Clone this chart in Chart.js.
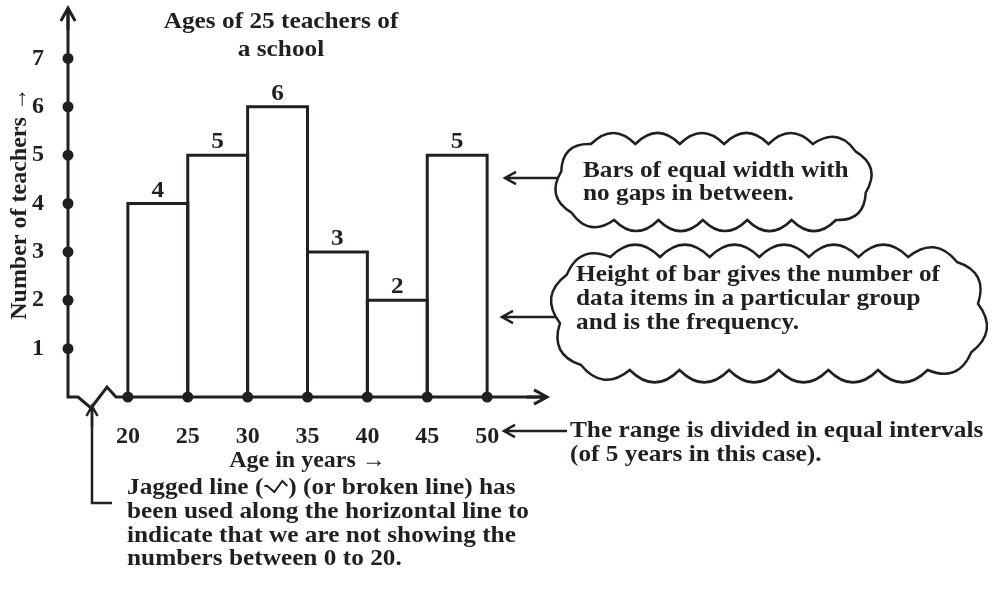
<!DOCTYPE html>
<html>
<head>
<meta charset="utf-8">
<script src="https://cdn.jsdelivr.net/npm/chart.js@4.4.1/dist/chart.umd.min.js"></script>
<style>
  html, body { margin: 0; padding: 0; background: #fff; }
  #wrap { width: 996px; height: 593px; }
</style>
</head>
<body>
<div id="wrap"><canvas id="histo" width="996" height="593"></canvas></div>
<script>
// datos del histograma
const ageEdges = [20, 25, 30, 35, 40, 45, 50];
const binMids = [22.5, 27.5, 32.5, 37.5, 42.5, 47.5];
const teachers = [4, 5, 6, 3, 2, 5];
const yTicks = [1, 2, 3, 4, 5, 6, 7];

const titleLines = ['Ages of 25 teachers of', 'a school'];
const cloudOneLines = ['Bars of equal width with', 'no gaps in between.'];
const cloudTwoLines = ['Height of bar gives the number of', 'data items in a particular group', 'and is the frequency.'];
const rangeLines = ['The range is divided in equal intervals', '(of 5 years in this case).'];
const jagLines = ['been used along the horizontal line to', 'indicate that we are not showing the', 'numbers between 0 to 20.'];

const INK = '#231f20';
const FAMILY = '"Liberation Serif", "Times New Roman", serif';
const SX = 1.1; // el texto del original esta un poco ensanchado

function say(ctx, s, x, y, align) {
    ctx.save();
    ctx.translate(x, y);
    ctx.scale(SX, 1);
    ctx.textAlign = align || 'left';
    ctx.textBaseline = 'alphabetic';
    ctx.fillText(s, 0, 0);
    ctx.restore();
}

function arrow(ctx, x0, y0, x1, y1, head) {
    const dx = x1 - x0, dy = y1 - y0;
    const len = Math.hypot(dx, dy);
    const ux = dx / len, uy = dy / len;
    ctx.beginPath();
    ctx.moveTo(x0, y0);
    ctx.lineTo(x1, y1);
    ctx.moveTo(x1 - ux * head - uy * head * 0.55, y1 - uy * head + ux * head * 0.55);
    ctx.lineTo(x1, y1);
    ctx.lineTo(x1 - ux * head + uy * head * 0.55, y1 - uy * head - ux * head * 0.55);
    ctx.stroke();
}

// puntos repartidos sobre un rectangulo redondeado
function rrPoints(x0, y0, x1, y1, r, n, phase) {
    const dense = [];
    const corners = [[x1 - r, y0 + r, -Math.PI / 2], [x1 - r, y1 - r, 0], [x0 + r, y1 - r, Math.PI / 2], [x0 + r, y0 + r, Math.PI]];
    corners.forEach(([cx, cy, a0]) => {
        for (let k = 0; k <= 8; k++) {
            const a = a0 + k / 8 * Math.PI / 2;
            dense.push([cx + r * Math.cos(a), cy + r * Math.sin(a)]);
        }
    });
    dense.push(dense[0]);
    const cum = [0];
    for (let i = 1; i < dense.length; i++) {
        cum.push(cum[i - 1] + Math.hypot(dense[i][0] - dense[i - 1][0], dense[i][1] - dense[i - 1][1]));
    }
    const total = cum[cum.length - 1];
    const pts = [];
    for (let i = 0; i < n; i++) {
        const s = ((phase + i / n) % 1) * total;
        let j = 1;
        while (cum[j] < s) j++;
        const t = (s - cum[j - 1]) / (cum[j] - cum[j - 1] || 1);
        pts.push([dense[j - 1][0] + t * (dense[j][0] - dense[j - 1][0]), dense[j - 1][1] + t * (dense[j][1] - dense[j - 1][1])]);
    }
    return pts;
}

function cloud(ctx, x0, y0, x1, y1, r, n, phase) {
    const pts = rrPoints(x0, y0, x1, y1, r, n, phase);
    ctx.beginPath();
    ctx.moveTo(pts[0][0], pts[0][1]);
    for (let i = 0; i < n; i++) {
        const a = pts[i], b = pts[(i + 1) % n];
        const dx = b[0] - a[0], dy = b[1] - a[1];
        const cx = (a[0] + b[0]) / 2 + dy * 0.5;
        const cy = (a[1] + b[1]) / 2 - dx * 0.5;
        ctx.quadraticCurveTo(cx, cy, b[0], b[1]);
    }
    ctx.closePath();
    ctx.fillStyle = '#fff';
    ctx.fill();
    ctx.stroke();
}

const decor = {
    id: 'decor',
    afterDatasetsDraw(chart) {
        const ctx = chart.ctx;
        const xs = chart.scales.x, ys = chart.scales.y;
        const x0 = xs.getPixelForValue(15), yb = ys.getPixelForValue(0);
        ctx.save();
        ctx.strokeStyle = INK;
        ctx.fillStyle = INK;
        ctx.lineJoin = 'miter';
        ctx.lineCap = 'butt';

        // contorno de las barras
        ctx.lineWidth = 3;
        const meta = chart.getDatasetMeta(2);
        ctx.font = 'bold 23px ' + FAMILY;
        meta.data.forEach((bar, i) => {
            const p = bar.getProps(['x', 'y', 'base', 'width'], true);
            const l = p.x - p.width / 2, r = p.x + p.width / 2;
            ctx.beginPath();
            ctx.moveTo(l, p.base);
            ctx.lineTo(l, p.y);
            ctx.lineTo(r, p.y);
            ctx.lineTo(r, p.base);
            ctx.stroke();
            say(ctx, String(teachers[i]), p.x, p.y - 7, 'center');
        });

        // ejes con linea quebrada
        ctx.beginPath();
        ctx.moveTo(x0, 8);
        ctx.lineTo(x0, yb);
        ctx.lineTo(x0 + 10, yb);
        ctx.lineTo(x0 + 23, yb + 11);
        ctx.lineTo(x0 + 39, yb - 10);
        ctx.lineTo(x0 + 48, yb);
        ctx.lineTo(chart.chartArea.right, yb);
        ctx.stroke();
        arrow(ctx, x0, 30, x0, 8, 13);
        arrow(ctx, chart.chartArea.right - 20, yb, chart.chartArea.right, yb, 13);

        // titulo
        titleLines.forEach((s, i) => say(ctx, s, 281, 28 + i * 28, 'center'));

        // flechas de las notas
        ctx.lineWidth = 2.5;
        arrow(ctx, 565, 178, 505, 178, 11);
        arrow(ctx, 565, 317, 502, 317, 11);
        arrow(ctx, 567, 431, 504, 431, 11);

        // nubes
        ctx.lineWidth = 2.5;
        cloud(ctx, 561, 144, 866, 220, 30, 16, 0.03);
        cloud(ctx, 560, 257, 978, 370, 40, 20, 0.02);
        ctx.fillStyle = INK;
        cloudOneLines.forEach((s, i) => say(ctx, s, 583, 177 + i * 23));
        cloudTwoLines.forEach((s, i) => say(ctx, s, 576, 281 + i * 24));
        rangeLines.forEach((s, i) => say(ctx, s, 570, 437 + i * 24));

        // nota de la linea quebrada
        ctx.lineWidth = 2.5;
        ctx.beginPath();
        ctx.moveTo(x0 + 24, yb + 9);
        ctx.lineTo(x0 + 24, 503);
        ctx.lineTo(112, 503);
        ctx.stroke();
        arrow(ctx, x0 + 24, yb + 30, x0 + 24, yb + 9, 10);

        const pre = 'Jagged line (';
        const by = 494;
        say(ctx, pre, 127, by);
        let jx = 127 + ctx.measureText(pre).width * SX + 1;
        ctx.lineWidth = 2;
        ctx.beginPath();
        ctx.moveTo(jx, by - 8);
        ctx.lineTo(jx + 3, by - 8);
        ctx.lineTo(jx + 10, by - 2);
        ctx.lineTo(jx + 18, by - 13);
        ctx.lineTo(jx + 23, by - 8);
        ctx.stroke();
        say(ctx, ') (or broken line) has', jx + 24, by);
        jagLines.forEach((s, i) => say(ctx, s, 127, 518 + i * 23.5));

        ctx.restore();
    }
};

const tickFont = { family: FAMILY, size: 24, weight: 'bold' };

new Chart(document.getElementById('histo'), {
    type: 'bar',
    data: {
        datasets: [
            {
                type: 'scatter',
                data: ageEdges.map(x => ({ x: x, y: 0 })),
                pointRadius: 5.5,
                pointBackgroundColor: INK,
                pointBorderWidth: 0,
                clip: false,
                order: 1
            },
            {
                type: 'scatter',
                data: yTicks.map(y => ({ x: 15, y: y })),
                pointRadius: 5.5,
                pointBackgroundColor: INK,
                pointBorderWidth: 0,
                clip: false,
                order: 1
            },
            {
                type: 'bar',
                data: binMids.map((x, i) => ({ x: x, y: teachers[i] })),
                backgroundColor: '#fff',
                borderWidth: 0,
                barPercentage: 1,
                categoryPercentage: 1,
                order: 3
            }
        ]
    },
    options: {
        responsive: false,
        animation: false,
        devicePixelRatio: 1,
        events: [],
        layout: { padding: { top: 10, right: 449, left: 0, bottom: 0 } },
        plugins: { legend: { display: false }, tooltip: { enabled: false } },
        scales: {
            x: {
                type: 'linear',
                min: 15,
                max: 55,
                offset: false,
                grid: { display: false, offset: false },
                border: { display: false },
                ticks: {
                    stepSize: 5,
                    autoSkip: false,
                    maxRotation: 0,
                    padding: 17,
                    color: INK,
                    font: tickFont,
                    callback: v => ageEdges.includes(v) ? String(v) : null
                },
                title: {
                    display: true,
                    text: 'Age in years →',
                    color: INK,
                    font: tickFont,
                    padding: { top: 0, bottom: 118 }
                },
                afterFit: s => {
                    s.height = 196;
                    s.paddingLeft = 0;
                    s.paddingRight = 0;
                }
            },
            y: {
                min: 0,
                max: 8,
                grid: { display: false },
                border: { display: false },
                ticks: {
                    stepSize: 1,
                    autoSkip: false,
                    padding: 16,
                    color: INK,
                    font: tickFont,
                    callback: v => yTicks.includes(v) ? String(v) : null
                },
                title: {
                    display: true,
                    text: 'Number of teachers →',
                    color: INK,
                    font: tickFont,
                    padding: { top: 5, bottom: 0 }
                },
                afterFit: s => {
                    s.width = 68;
                    s.paddingTop = 0;
                    s.paddingBottom = 0;
                }
            }
        }
    },
    plugins: [decor]
});
</script>
</body>
</html>
